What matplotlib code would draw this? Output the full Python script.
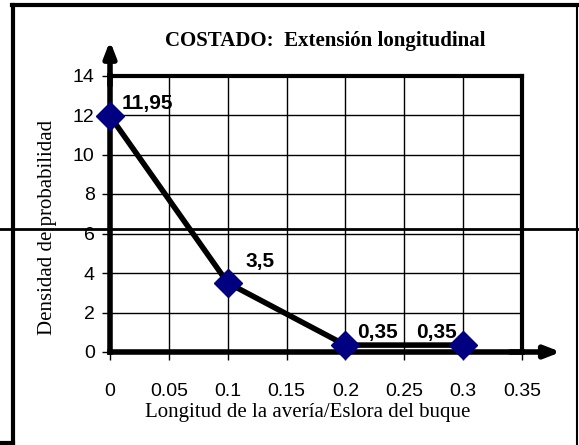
import matplotlib.pyplot as plt
from matplotlib.lines import Line2D

# data
x_vals = [0, 0.1, 0.2, 0.3]
y_vals = [11.95, 3.5, 0.35, 0.35]
point_labels = ["11,95", "3,5", "0,35", "0,35"]
label_pos = [(0.0102, 12.6), (0.1274, 4.56), (0.2275, 1.0), (0.2775, 1.0)]
x_ticks = [0, 0.05, 0.1, 0.15, 0.2, 0.25, 0.3, 0.35]
x_ticklabels = ["0", "0.05", "0.1", "0.15", "0.2", "0.25", "0.3", "0.35"]
y_ticks = [0, 2, 4, 6, 8, 10, 12, 14]

serif = "Liberation Serif"
sans = "Liberation Sans"

fig = plt.figure(figsize=(5.79, 4.45), dpi=100)
ax = fig.add_axes([110 / 579, 1 - 352 / 445, 412 / 579, 276.5 / 445])
ax.set_xlim(0, 0.35)
ax.set_ylim(0, 14)

ax.set_xticks(x_ticks)
ax.set_xticklabels(x_ticklabels, fontfamily=sans, fontsize=14)
ax.set_yticks(y_ticks)
ax.set_yticklabels([str(v) for v in y_ticks], fontfamily=sans, fontsize=14)
ax.tick_params(axis="x", direction="out", length=6, width=1, pad=16)
ax.tick_params(axis="y", direction="out", length=6, width=1, pad=5)
ax.grid(True, color="black", linewidth=1)

for s in ["top", "right"]:
    ax.spines[s].set_linewidth(3)
for s in ["left", "bottom"]:
    ax.spines[s].set_linewidth(4)

# arrows on the axes
ax.annotate("", xy=(0, 15.75), xytext=(0, 13.5),
            arrowprops=dict(arrowstyle="-|>,head_length=0.9,head_width=0.35", lw=4, color="black",
                            shrinkA=0, shrinkB=0), annotation_clip=False)
ax.annotate("", xy=(0.383, 0), xytext=(0.34, 0),
            arrowprops=dict(arrowstyle="-|>,head_length=0.9,head_width=0.35", lw=4, color="black",
                            shrinkA=0, shrinkB=0), annotation_clip=False)

ax.plot(x_vals, y_vals, color="black", linewidth=4, zorder=5, clip_on=False,
        marker="D", markersize=14, markerfacecolor="#000080", markeredgecolor="#000080")

for txt, (px, py) in zip(point_labels, label_pos):
    ha = "left" if txt == "11,95" else "center"
    ax.text(px, py, txt, fontfamily=sans, fontsize=15, fontweight="bold", ha=ha, va="center", zorder=6)

fig.text(308 / 579, 1 - 413 / 445, "Longitud de la avería/Eslora del buque", fontfamily=serif,
         fontsize=15, ha="center", va="center")
fig.text(48 / 579, 1 - 227 / 445, "Densidad de probabilidad", fontfamily=serif, fontsize=15,
         rotation=90, ha="center", va="center")
fig.text(325 / 579, 1 - 41 / 445, "COSTADO:  Extensión longitudinal", fontfamily=serif,
         fontsize=15, fontweight="bold", ha="center", va="center")

# outer frame pieces
fig.add_artist(Line2D([13 / 579, 13 / 579], [1 - 443 / 445, 1 - 5 / 445], color="black", lw=3))
fig.add_artist(Line2D([12 / 579, 577 / 579], [1 - 5 / 445, 1 - 5 / 445], color="black", lw=3))
fig.add_artist(Line2D([577 / 579, 577 / 579], [0, 1 - 5 / 445], color="black", lw=1.5))
fig.add_artist(Line2D([0, 13 / 579], [1 - 443 / 445, 1 - 443 / 445], color="black", lw=3))
fig.add_artist(Line2D([0, 1], [1 - 229 / 445, 1 - 229 / 445], color="black", lw=2))

fig.savefig("out.png", dpi=100)
